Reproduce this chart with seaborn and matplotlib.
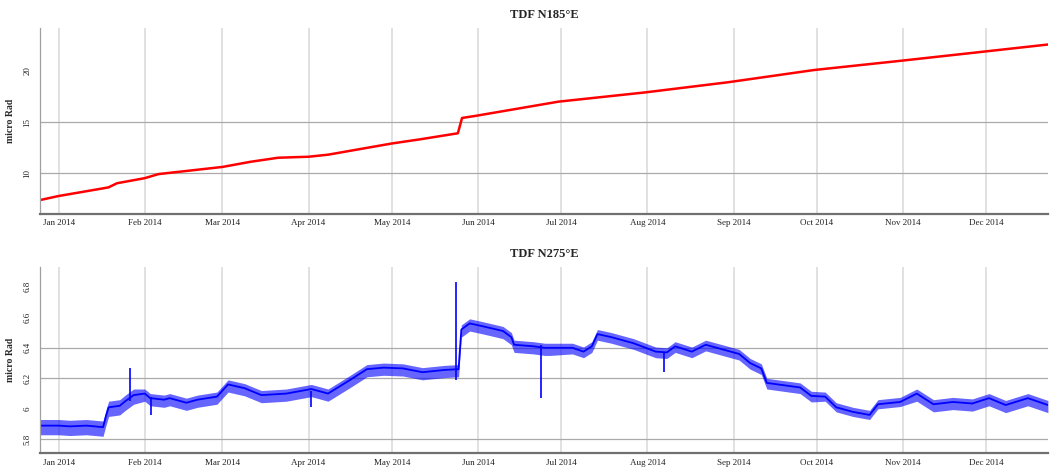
import matplotlib
matplotlib.use('Agg')
import pandas as pd
import matplotlib.pyplot as plt
import matplotlib.dates as mdates
import matplotlib.ticker as mticker
import seaborn as sns

# ---- values -----------------------------------------------------------------
# TDF N185°E (red, smooth drift)
red_dates = ['2013-12-25 06:00', '2014-01-01', '2014-01-17', '2014-01-19', '2014-01-22',
             '2014-02-01', '2014-02-06', '2014-03-01', '2014-03-11', '2014-03-21',
             '2014-04-01', '2014-04-08', '2014-05-01', '2014-05-11', '2014-05-24 18:00',
             '2014-05-26 06:00', '2014-05-31', '2014-06-30', '2014-07-31', '2014-08-30',
             '2014-09-30', '2014-10-31', '2014-11-30', '2014-12-23 05:00']
red_values = [7.35, 7.75, 8.5, 8.6, 9.0,
              9.5, 9.9, 10.6, 11.1, 11.5,
              11.6, 11.8, 12.9, 13.3, 13.9,
              15.4, 15.6, 17.0, 17.9, 18.9,
              20.1, 21.0, 21.9, 22.6]

# TDF N275°E (blue, noisy with daily swing)
blue_dates = ['2013-12-25 06:00', '2014-01-01', '2014-01-05', '2014-01-11', '2014-01-17',
              '2014-01-18', '2014-01-19', '2014-01-23', '2014-01-25', '2014-01-28',
              '2014-02-01', '2014-02-03', '2014-02-08', '2014-02-10', '2014-02-16',
              '2014-02-20', '2014-02-27', '2014-03-03', '2014-03-09', '2014-03-15',
              '2014-03-24', '2014-04-02', '2014-04-08', '2014-04-16', '2014-04-22',
              '2014-04-28', '2014-05-05', '2014-05-12', '2014-05-20', '2014-05-25',
              '2014-05-26', '2014-05-29', '2014-06-03', '2014-06-10', '2014-06-13',
              '2014-06-14', '2014-06-21', '2014-06-25', '2014-06-27', '2014-07-05',
              '2014-07-09', '2014-07-12', '2014-07-14', '2014-07-19', '2014-07-27',
              '2014-08-04', '2014-08-08', '2014-08-11', '2014-08-17', '2014-08-22',
              '2014-08-30', '2014-09-03', '2014-09-07', '2014-09-11', '2014-09-13',
              '2014-09-21', '2014-09-25', '2014-09-29', '2014-10-04', '2014-10-08',
              '2014-10-14', '2014-10-20', '2014-10-23', '2014-10-31', '2014-11-06',
              '2014-11-12', '2014-11-19', '2014-11-26', '2014-12-02', '2014-12-08',
              '2014-12-16', '2014-12-23 05:00']
blue_values = [5.89, 5.89, 5.885, 5.89, 5.88,
               5.95, 6.01, 6.02, 6.05, 6.09,
               6.10, 6.07, 6.06, 6.07, 6.04,
               6.06, 6.08, 6.16, 6.135, 6.09,
               6.10, 6.13, 6.10, 6.19, 6.26,
               6.27, 6.265, 6.24, 6.255, 6.26,
               6.52, 6.56, 6.54, 6.51, 6.47,
               6.42, 6.41, 6.40, 6.40, 6.40,
               6.375, 6.41, 6.49, 6.47, 6.43,
               6.375, 6.37, 6.41, 6.375, 6.42,
               6.38, 6.36, 6.30, 6.265, 6.17,
               6.15, 6.14, 6.085, 6.08, 6.01,
               5.98, 5.96, 6.03, 6.045, 6.10,
               6.03, 6.045, 6.035, 6.07, 6.025,
               6.07, 6.025]

# daily swing of the blue trace, by month (below / above the trace)
swing_months = ['2013-12', '2014-01', '2014-02', '2014-03', '2014-04', '2014-05', '2014-06',
                '2014-07', '2014-08', '2014-09', '2014-10', '2014-11', '2014-12']
swing_down = [0.06, 0.06, 0.05, 0.05, 0.05, 0.05, 0.05, 0.04, 0.04, 0.04, 0.03, 0.05, 0.05]
swing_up = [0.04, 0.04, 0.03, 0.03, 0.03, 0.03, 0.03, 0.03, 0.03, 0.03, 0.03, 0.03, 0.03]

# isolated spikes on the blue trace
spike_dates = ['2014-01-26 14:00', '2014-02-03 02:00', '2014-04-01 20:00',
               '2014-05-24 05:00', '2014-06-23 19:00', '2014-08-07 00:00']
spike_low = [6.05, 5.96, 6.01, 6.19, 6.07, 6.24]
spike_high = [6.27, 6.08, 6.12, 6.83, 6.42, 6.37]

red = pd.DataFrame({'date': pd.to_datetime(red_dates, format='ISO8601'), 'value': red_values})
blue = pd.DataFrame({'date': pd.to_datetime(blue_dates, format='ISO8601'), 'value': blue_values})
month = blue['date'].dt.strftime('%Y-%m')
blue['low'] = blue['value'] - month.map(dict(zip(swing_months, swing_down)))
blue['high'] = blue['value'] + month.map(dict(zip(swing_months, swing_up)))

# ---- figure ------------------------------------------------------------------
sns.set_theme(style='white')
plt.rcParams['font.family'] = ['Liberation Serif', 'DejaVu Serif']

fig = plt.figure(figsize=(10.5, 4.7), dpi=100)
ax_top = fig.add_axes([0.038, 0.545, 0.960, 0.395])
ax_bot = fig.add_axes([0.038, 0.036, 0.960, 0.396])

x_start = pd.Timestamp('2013-12-25 06:00')
x_end = pd.Timestamp('2014-12-23 05:00')


def style_axis(ax, title, yticks, grid_y, ylim):
    ax.set_xlim(x_start, x_end)
    ax.set_ylim(*ylim)
    ax.set_title(title, fontsize=9, fontweight='bold', pad=7)
    ax.set_ylabel('micro Rad', fontsize=7, fontweight='bold', labelpad=6)
    ax.set_xlabel('')
    ax.xaxis.set_major_locator(mdates.MonthLocator())
    ax.xaxis.set_major_formatter(mdates.DateFormatter('%b %Y'))
    ax.set_yticks(yticks)
    ax.yaxis.set_major_formatter(mticker.FuncFormatter(lambda v, p: f'{v:g}'))
    ax.tick_params(axis='x', length=0, labelsize=6.5, pad=4, colors='#222222')
    ax.tick_params(axis='y', length=0, labelsize=6.5, pad=6, labelrotation=90, colors='#222222')
    for label in ax.get_yticklabels():
        label.set_verticalalignment('center')
    ax.grid(False)
    for m in mdates.MonthLocator().tick_values(x_start, x_end):
        ax.axvline(m, color='#dedede', lw=1.3, zorder=0)
    for g in grid_y:
        ax.axhline(g, color='#aaaaaa', lw=0.9, zorder=0)
    ax.spines['top'].set_visible(False)
    ax.spines['right'].set_visible(False)
    ax.spines['left'].set_color('#a0a0a0')
    ax.spines['left'].set_linewidth(0.9)
    ax.spines['bottom'].set_color('#707070')
    ax.spines['bottom'].set_linewidth(1.6)


sns.lineplot(data=red, x='date', y='value', ax=ax_top, color='#ff0000', lw=1.8, estimator=None)
style_axis(ax_top, 'TDF N185°E', [10, 15, 20], [10, 15], (6.0, 24.2))

ax_bot.fill_between(blue['date'], blue['low'], blue['high'], color='#0000ff', alpha=0.6, lw=0)
sns.lineplot(data=blue, x='date', y='value', ax=ax_bot, color='#0000ff', lw=1.3, estimator=None)
ax_bot.vlines(pd.to_datetime(spike_dates, format='ISO8601'), spike_low, spike_high,
              color='#0000ff', lw=1.2)
style_axis(ax_bot, 'TDF N275°E', [5.8, 6.0, 6.2, 6.4, 6.6, 6.8], [5.8, 6.2, 6.4], (5.71, 6.93))

plt.savefig('out.png', dpi=100)
plt.close()
